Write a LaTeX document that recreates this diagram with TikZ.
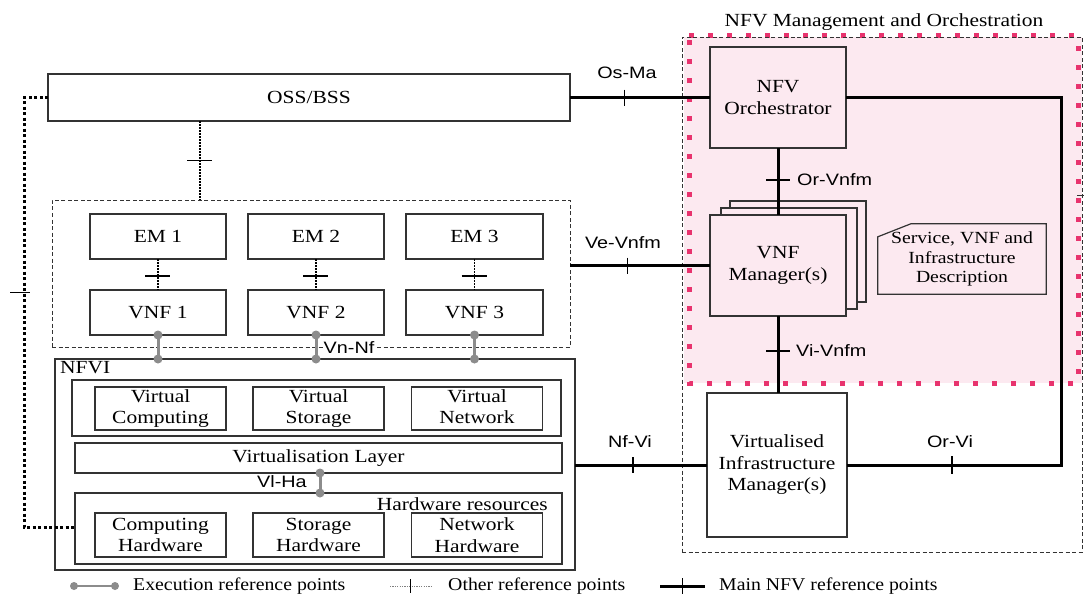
\documentclass[tikz,border=0pt]{standalone}
\usepackage{fontspec}
\setmainfont{Liberation Serif}[FakeStretch=1.16]
\newfontfamily\legfont{Liberation Serif}[FakeStretch=1.1]
\newfontfamily\lblsans{Liberation Sans}[FakeStretch=1.2]
\usetikzlibrary{calc}
\definecolor{boxc}{HTML}{333333}
\definecolor{pinkfill}{HTML}{FCE9F0}
\definecolor{pinkdot}{HTML}{E8336E}
\definecolor{execc}{HTML}{8C8C8C}
\newcommand\mkexdot[1]{\fill[execc] (#1) circle (4.5pt);}
\begin{document}
\begin{tikzpicture}[x=1pt,y=-1pt,
 box/.style={draw=boxc, line width=1.2pt, inner sep=0pt, outer sep=0pt, align=center, font=\fontsize{18.5}{21.5}\selectfont},
 mainln/.style={line width=3pt, black},
 tickln/.style={line width=1.4pt, black},
 otherln/.style={line width=1.2pt, black, dash pattern=on 1.5pt off 1.5pt},
 mgmtln/.style={line width=3pt, black, dash pattern=on 3pt off 2.5pt},
 execln/.style={line width=3pt, execc},
 lbl/.style={font=\lblsans\fontsize{16.5}{18}\selectfont, inner sep=1pt},
 txt/.style={font=\fontsize{18.5}{21.5}\selectfont, inner sep=0pt},
 legtxt/.style={font=\legfont\fontsize{18}{21}\selectfont, inner sep=0pt},
 dashbox/.style={draw=boxc, line width=0.9pt, dash pattern=on 4pt off 2.5pt, inner sep=0pt, outer sep=0pt},
]
\useasboundingbox[fill=white] (0,0) rectangle (1084,594);

% ---- MANO area
\fill[pinkfill] (684,37) rectangle (1082,383);
\draw[pinkdot, line width=5pt, dash pattern=on 5pt off 14pt] (689,36) -- (1078,36) -- (1078,383) -- (689,383) -- cycle;
\node[dashbox, minimum width=400pt, minimum height=515pt] (mano) at (882,294.5) {};
\node[txt] (manot) at (884,22) {NFV Management and Orchestration};
\draw[line width=1pt, boxc] (1077,195) -- (1084,195);

\node[box, fill=pinkfill, minimum width=136pt, minimum height=101pt] (orch) at (778,97.5) {NFV\\Orchestrator};
\draw[box, fill=pinkfill] (730,201) rectangle (866,302);
\draw[box, fill=pinkfill] (721,208) rectangle (857,309);
\node[box, fill=pinkfill, minimum width=136pt, minimum height=101pt] (vnfm) at (778,265.5) {VNF\\Manager(s)};
\node[minimum width=168pt, minimum height=70pt, inner sep=0pt, align=center, font=\fontsize{17}{19.5}\selectfont] (desc) at (962,259) {Service, VNF and\\Infrastructure\\Description};
\draw[draw=boxc, line width=1.2pt] (desc.south west) -- ($(desc.north west)+(0,13)$) -- ($(desc.north west)+(33,0)$) -- (desc.north east) -- (desc.south east) -- cycle;
\node[box, fill=white, minimum width=140pt, minimum height=144pt] (vim) at (777,465) {Virtualised\\Infrastructure\\Manager(s)};

% ---- left side
\node[box, minimum width=522pt, minimum height=47pt] (oss) at (309,97.5) {OSS/BSS};
\node[dashbox, minimum width=518pt, minimum height=147pt] (vebox) at (311,273.5) {};
\node[box, minimum width=136pt, minimum height=45pt] (em1) at (158,236.5) {EM 1};
\node[box, minimum width=136pt, minimum height=45pt] (em2) at (316,236.5) {EM 2};
\node[box, minimum width=137pt, minimum height=45pt] (em3) at (474.5,236.5) {EM 3};
\node[box, minimum width=136pt, minimum height=45pt] (vnf1) at (158,312.5) {VNF 1};
\node[box, minimum width=136pt, minimum height=45pt] (vnf2) at (316,312.5) {VNF 2};
\node[box, minimum width=137pt, minimum height=45pt] (vnf3) at (474.5,312.5) {VNF 3};

\node[box, minimum width=520pt, minimum height=211pt] (nfvi) at (315,464.5) {};
\node[txt, anchor=base west] (nfvit) at (60,373) {NFVI};
\node[box, minimum width=489pt, minimum height=56pt] (vrow) at (316.5,408) {};
\node[box, minimum width=131pt, minimum height=43pt] (vc) at (160.5,408.5) {Virtual\\Computing};
\node[box, minimum width=131pt, minimum height=43pt] (vs) at (318.5,408.5) {Virtual\\Storage};
\node[box, minimum width=131pt, minimum height=43pt] (vn) at (477,408.5) {Virtual\\Network\vphantom{g}};
\node[box, minimum width=487pt, minimum height=30pt] (vlayer) at (318.5,458) {Virtualisation Layer};
\node[box, minimum width=487pt, minimum height=71pt] (hw) at (318.5,528.5) {};
\node[txt, anchor=base east] (hwt) at (548,510) {Hardware resources};
\node[box, minimum width=131pt, minimum height=44pt] (ch) at (160.5,535) {Computing\\Hardware};
\node[box, minimum width=131pt, minimum height=44pt] (sh) at (318.5,535) {Storage\\Hardware};
\node[box, minimum width=131pt, minimum height=44pt] (nh) at (477,535) {Network\\Hardware};

% ---- other reference points
\coordinate (ovx) at (200,0);
\draw[otherln] (oss.south -| ovx) -- coordinate[pos=0.5] (ovt) (vebox.north -| ovx);
\draw[tickln] ($(ovt)+(-13,0)$) -- ($(ovt)+(12,0)$);
\foreach \i in {1,2,3}{
  \draw[otherln] (em\i.south) -- coordinate[pos=0.55] (emt\i) (vnf\i.north);
  \draw[tickln] ($(emt\i)+(-13,0)$) -- ($(emt\i)+(12,0)$);
}
\coordinate (lx) at (24,527);
\draw[mgmtln] (oss.west) -| (lx) -- (lx -| hw.west);
\draw[line width=1pt, black] (10,292) -- (30,292);

% ---- execution reference points
\foreach \v in {vnf1,vnf2,vnf3}{
  \draw[execln] (\v.south) -- (\v.south |- nfvi.north);
  \mkexdot{\v.south}
  \mkexdot{\v.south |- nfvi.north}
}
\node[lbl, fill=white] (vnnf) at (349,348) {Vn-Nf};
\coordinate (vhx) at (320,0);
\draw[execln] (vlayer.south -| vhx) -- (hw.north -| vhx);
\mkexdot{vlayer.south -| vhx}
\mkexdot{hw.north -| vhx}
\node[lbl] (vlha) at (282,482) {Vl-Ha};

% ---- main reference points
\draw[mainln] (oss.east) -- coordinate[pos=0.39] (osma) (orch.west);
\draw[tickln] ($(osma)+(0,-8)$) -- ($(osma)+(0,8)$);
\node[lbl] (osmat) at (627,73) {Os-Ma};

\draw[mainln] (vebox.east |- vnfm.west) -- coordinate[pos=0.41] (vevnfm) (vnfm.west);
\draw[tickln] ($(vevnfm)+(0,-8)$) -- ($(vevnfm)+(0,8)$);
\node[lbl] (vevnfmt) at (623,243) {Ve-Vnfm};

\draw[mainln] (orch.south) -- coordinate[pos=0.48] (orvnfm) (vnfm.north);
\draw[tickln] ($(orvnfm)+(-12,0)$) -- ($(orvnfm)+(12,0)$);
\node[lbl, anchor=west] (orvnfmt) at (796,180) {Or-Vnfm};

\draw[mainln] (vnfm.south) -- coordinate[pos=0.455] (vivnfm) (vnfm.south |- vim.north);
\draw[tickln] ($(vivnfm)+(-12,0)$) -- ($(vivnfm)+(12,0)$);
\node[lbl, anchor=west] (vivnfmt) at (795,351) {Vi-Vnfm};

\draw[mainln] (nfvi.east |- vim.west) -- coordinate[pos=0.44] (nfvi1) (vim.west);
\draw[tickln] ($(nfvi1)+(0,-8)$) -- ($(nfvi1)+(0,8)$);
\node[lbl] (nfvit2) at (630,442) {Nf-Vi};

\coordinate (orx) at (1061,0);
\draw[mainln, line join=miter] (orch.east) -| (orx |- vim.east) -- (vim.east);
\coordinate (orvi) at (952,465);
\draw[tickln] ($(orvi)+(0,-9)$) -- ($(orvi)+(0,9)$);
\node[lbl] (orvit) at (950,442) {Or-Vi};

% ---- legend
\coordinate (lg1a) at (74,586); \coordinate (lg1b) at (115,586);
\draw[line width=2pt, execc] (lg1a) -- (lg1b);
\fill[execc] (lg1a) circle (4pt); \fill[execc] (lg1b) circle (4pt);
\node[legtxt, anchor=west] (lg1t) at (133,586) {Execution reference points};
\coordinate (lg2a) at (390,586); \coordinate (lg2b) at (432,586);
\draw[line width=0.8pt, dash pattern=on 1.2pt off 1.2pt, gray] (lg2a) -- coordinate[pos=0.48] (lg2m) (lg2b);
\draw[line width=1pt] ($(lg2m)+(0,-7)$) -- ($(lg2m)+(0,7)$);
\node[legtxt, anchor=west] (lg2t) at (448,586) {Other reference points};
\coordinate (lg3a) at (660,586); \coordinate (lg3b) at (705,586);
\draw[mainln] (lg3a) -- coordinate[pos=0.5] (lg3m) (lg3b);
\draw[tickln] ($(lg3m)+(0,-8)$) -- ($(lg3m)+(0,8)$);
\node[legtxt, anchor=west] (lg3t) at (719,586) {Main NFV reference points};
\end{tikzpicture}
\end{document}
